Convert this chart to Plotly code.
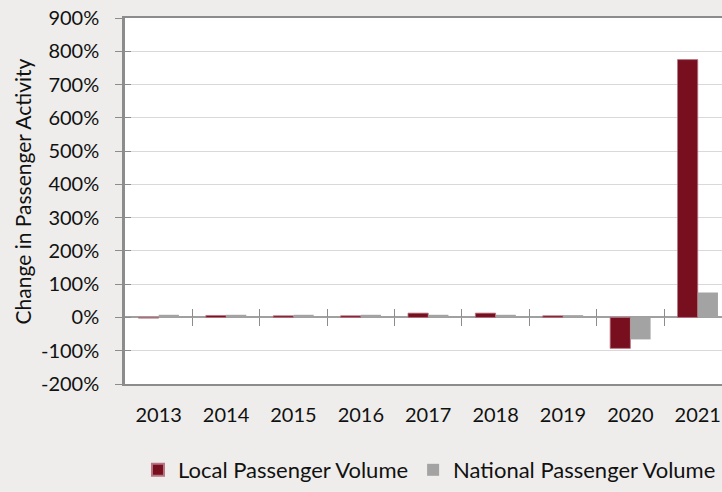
import plotly.graph_objects as go

years = ["2013", "2014", "2015", "2016", "2017", "2018", "2019", "2020", "2021"]
local_pct = [-2, 6, 5, 5, 13, 13, 5, -93, 775]
national_pct = [8, 8, 8, 8, 8, 8, 7, -66, 75]
y_ticks = [-200, -100, 0, 100, 200, 300, 400, 500, 600, 700, 800, 900]
y_tick_text = [f"{v}%" for v in y_ticks]
boundaries = [i + 0.5 for i in range(len(years) - 1)]

FONT = "Lato"
AXIS_C = "#8c8c8c"
TXT = "#111111"
x_range = [-0.5, 8.36]
y_range = [-200, 900]
zero_frac = (0 - y_range[0]) / (y_range[1] - y_range[0])

fig = go.Figure()
fig.add_trace(go.Bar(
    x=years, y=local_pct, name="Local Passenger Volume",
    marker=dict(color="#770f1f", line=dict(color="#b87482", width=0.8)),
))
fig.add_trace(go.Bar(
    x=years, y=national_pct, name="National Passenger Volume",
    marker=dict(color="#a3a3a3", line=dict(color="#a3a3a3", width=0)),
))
# empty traces to attach ghost axes used for crossing tick marks
fig.add_trace(go.Scatter(x=[], y=[], xaxis="x2", yaxis="y", showlegend=False, hoverinfo="skip"))
fig.add_trace(go.Scatter(x=[], y=[], xaxis="x3", yaxis="y", showlegend=False, hoverinfo="skip"))
fig.add_trace(go.Scatter(x=[], y=[], xaxis="x", yaxis="y2", showlegend=False, hoverinfo="skip"))

fig.update_layout(
    width=722, height=492,
    margin=dict(l=125, r=0, t=18, b=108),
    paper_bgcolor="#eeedeb", plot_bgcolor="#ffffff",
    barmode="group", bargap=0.4, bargroupgap=0,
    font=dict(family=FONT, size=20, color=TXT),
    showlegend=True,
    legend=dict(orientation="h", x=0.51, xanchor="center", y=-0.235, yanchor="middle",
                font=dict(family=FONT, size=22, color=TXT),
                bgcolor="rgba(0,0,0,0)", itemsizing="constant"),
    xaxis=dict(type="category", range=x_range, showgrid=False, zeroline=False,
               showline=True, linecolor=AXIS_C, linewidth=2, mirror=True,
               ticks="", ticklabelstandoff=12,
               tickfont=dict(family=FONT, size=20, color=TXT)),
    xaxis2=dict(type="linear", range=x_range, overlaying="x", anchor="free", position=zero_frac,
                tickmode="array", tickvals=boundaries, ticks="outside", ticklen=8,
                tickcolor=AXIS_C, tickwidth=1, showticklabels=False, showgrid=False,
                zeroline=False, showline=False),
    xaxis3=dict(type="linear", range=x_range, overlaying="x", anchor="free", position=zero_frac,
                tickmode="array", tickvals=boundaries, ticks="inside", ticklen=8,
                tickcolor=AXIS_C, tickwidth=1, showticklabels=False, showgrid=False,
                zeroline=False, showline=False),
    yaxis=dict(range=y_range, tickmode="array", tickvals=y_ticks, ticktext=y_tick_text,
               showgrid=True, gridcolor="#d9d9d9", gridwidth=1,
               zeroline=True, zerolinecolor="#a0a0a0", zerolinewidth=1.5,
               showline=True, linecolor=AXIS_C, linewidth=2.5, mirror=False,
               ticks="outside", ticklen=7, tickcolor=AXIS_C, tickwidth=1,
               ticklabelstandoff=12,
               tickfont=dict(family=FONT, size=20, color=TXT)),
    yaxis2=dict(range=y_range, overlaying="y", anchor="x", side="left",
                tickmode="array", tickvals=y_ticks, ticks="inside", ticklen=6,
                tickcolor=AXIS_C, tickwidth=1, showticklabels=False,
                showgrid=False, zeroline=False, showline=False),
    annotations=[dict(text="Change in Passenger Activity", xref="paper", yref="paper",
                      x=-0.172, y=0.527, xanchor="center", yanchor="middle",
                      textangle=-90, showarrow=False,
                      font=dict(family=FONT, size=21, color=TXT))],
)

fig.write_html("out.html", config={"displayModeBar": False},
               post_script="document.body.style.margin='0';")
